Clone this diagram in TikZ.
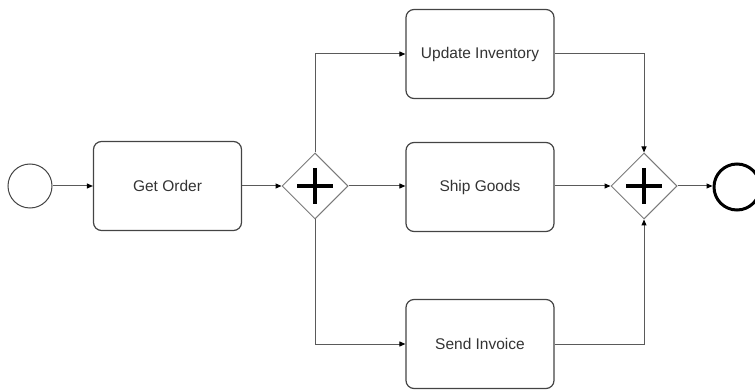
\documentclass[tikz,border=0pt]{standalone}
\usepackage{fontspec}
\setmainfont{Liberation Sans}
\usetikzlibrary{shapes.geometric,arrows.meta}
\definecolor{boxline}{HTML}{444444}
\definecolor{gateline}{HTML}{7A7A7A}
\definecolor{flowline}{HTML}{5A5A5A}
\definecolor{txt}{HTML}{333333}
\tikzset{
  task/.style={draw=boxline, line width=1.2pt, rounded corners=8pt, minimum width=148pt, minimum height=89pt, inner sep=0pt, text=txt, font=\fontsize{15.5}{17}\selectfont},
  gate/.style={draw=gateline, line width=1pt, diamond, aspect=1, minimum width=66pt, minimum height=66pt, inner sep=0pt},
  flow/.style={draw=flowline, line width=1pt, -{Triangle[length=6pt,width=5pt,fill=black,color=black]}},
  cross/.style={line width=4.5pt, black},
}
\begin{document}
\begin{tikzpicture}[x=1pt,y=-1pt]
\clip (0,0) rectangle (755,390);
\useasboundingbox (0,0) rectangle (755,390);
\node[draw=boxline, line width=1pt, circle, minimum size=44pt, inner sep=0pt] (start) at (30,186) {};
\node[task] (get) at (167.5,186) {Get Order};
\node[gate] (g1) at (315,186) {};
\node[task] (upd) at (480,54) {Update Inventory};
\node[task] (ship) at (480,187) {Ship Goods};
\node[task] (send) at (480,344) {Send Invoice};
\node[gate] (g2) at (644,186) {};
\node[draw=black, line width=3pt, circle, minimum size=46pt, inner sep=0pt] (end) at (737,187) {};
\draw[cross] (g1.center) ++(-18,0) -- ++(36,0);
\draw[cross] (g1.center) ++(0,-18) -- ++(0,36);
\draw[cross] (g2.center) ++(-18,0) -- ++(36,0);
\draw[cross] (g2.center) ++(0,-18) -- ++(0,36);
\draw[flow] (start) -- (get);
\draw[flow] (get) -- (g1.west);
\draw[flow] (g1.north) |- (upd.west);
\draw[flow] (g1.east) -- (ship.west |- g1.east);
\draw[flow] (g1.south) |- (send.west);
\draw[flow] (upd.east) -| (g2.north);
\draw[flow] (ship.east |- g2.west) -- (g2.west);
\draw[flow] (send.east) -| (g2.south);
\draw[flow] (g2.east) -- (end.west |- g2.east);
\end{tikzpicture}
\end{document}
